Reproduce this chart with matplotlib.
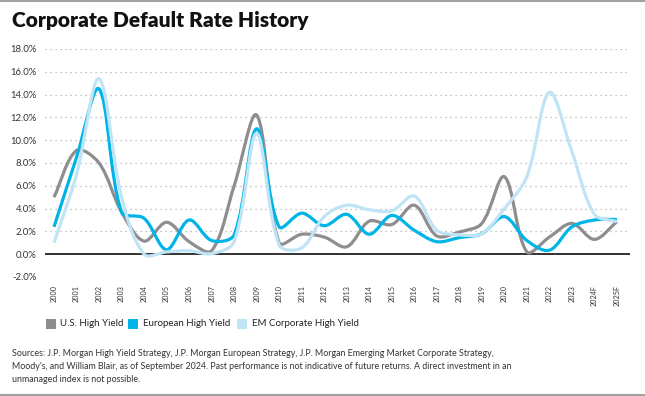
import matplotlib
matplotlib.use("Agg")
import matplotlib.pyplot as plt
from matplotlib.path import Path
from matplotlib.patches import PathPatch, Rectangle
from matplotlib.lines import Line2D
import numpy as np

plt.rcParams['font.family'] = ['Lato', 'DejaVu Sans']

years = ["2000", "2001", "2002", "2003", "2004", "2005", "2006", "2007", "2008", "2009",
         "2010", "2011", "2012", "2013", "2014", "2015", "2016", "2017", "2018", "2019",
         "2020", "2021", "2022", "2023", "2024F", "2025F"]
us_hy = [5.0, 9.1, 8.0, 3.7, 1.15, 2.8, 1.1, 0.3, 6.0, 12.2,
         1.0, 1.75, 1.5, 0.65, 2.9, 2.6, 4.3, 1.6, 1.95, 2.7,
         6.8, 0.2, 1.5, 2.7, 1.3, 2.85]
euro_hy = [2.4, 8.5, 14.5, 3.7, 3.15, 0.4, 3.0, 1.2, 1.7, 11.0,
           2.4, 3.6, 2.5, 3.5, 1.75, 3.4, 2.1, 1.1, 1.45, 1.8,
           3.3, 1.2, 0.35, 2.4, 3.0, 3.05]
em_hy = [1.0, 7.0, 15.4, 5.0, 0.0, 0.2, 0.3, 0.05, 1.1, 10.6,
         0.8, 0.55, 3.3, 4.3, 3.9, 3.8, 5.1, 2.1, 1.7, 1.8,
         4.0, 6.8, 14.2, 9.0, 3.5, 2.85]
series_names = ["U.S. High Yield", "European High Yield", "EM Corporate High Yield"]
colors = ["#8e8e90", "#00b4e8", "#bfe4f5"]
y_ticks = [-2, 0, 2, 4, 6, 8, 10, 12, 14, 16, 18]

W, H = 645, 396
PX_X = 22.5   # approx display pixels per category step
PX_Y = 11.4   # approx display pixels per percentage point


def smooth_path(xs, ys):
    """Chord-weighted cubic Bezier path (spreadsheet-style smoothed line)."""
    pts = np.column_stack([np.asarray(xs, float), np.asarray(ys, float)])
    scale = np.array([PX_X, PX_Y])
    n = len(pts)
    left = [None] * n
    right = [None] * n
    for i in range(n):
        p1 = pts[i]
        p0 = pts[i - 1] if i > 0 else pts[i]
        p2 = pts[i + 1] if i + 1 < n else pts[i]
        d01 = np.linalg.norm((p1 - p0) * scale)
        d12 = np.linalg.norm((p2 - p1) * scale)
        tot = d01 + d12
        t = p2 - p0
        if tot == 0:
            left[i] = right[i] = p1
            continue
        right[i] = p1 + t * (d12 / tot) / 3.0
        left[i] = p1 - t * (d01 / tot) / 3.0
    verts = [pts[0]]
    codes = [Path.MOVETO]
    for i in range(n - 1):
        verts += [right[i], left[i + 1], pts[i + 1]]
        codes += [Path.CURVE4] * 3
    return Path(verts, codes)


fig = plt.figure(figsize=(6.45, 3.96), dpi=100)
ax = fig.add_axes([45 / W, 1 - 277 / H, (630 - 45) / W, (277 - 49) / H])

x = np.arange(len(years))
order = [0, 2, 1]
for k in order:
    vals = [us_hy, euro_hy, em_hy][k]
    p = smooth_path(x, vals)
    ax.add_patch(PathPatch(p, facecolor='none', edgecolor=colors[k], lw=2.3,
                           capstyle='butt', joinstyle='round', zorder=2 + k * 0.1))
    ax.plot(x, vals, alpha=0)

ax.set_xlim(-0.4, 25.58)
ax.set_ylim(-2, 18)
ax.set_yticks(y_ticks)
ax.set_yticklabels([f"{v:.1f}%" for v in y_ticks])
ax.set_xticks(x)
ax.set_xticklabels(years, rotation=90, va='top', ha='center')
for v in y_ticks:
    if v != 0:
        ax.axhline(v, color='#b0b0b0', lw=0.9, ls=(0, (1, 3)), zorder=0)
ax.axhline(0, color='#222222', lw=1.3, zorder=1)
for s in ax.spines.values():
    s.set_visible(False)
ax.tick_params(axis='both', length=0)
ax.tick_params(axis='y', labelsize=6.8, labelcolor='#333333', pad=6)
ax.tick_params(axis='x', labelsize=5.2, labelcolor='#333333', pad=6)

# Title
fig.text(12 / W, 1 - 21 / H, "Corporate Default Rate History", fontsize=15,
         fontweight='heavy', color='#111111', va='center', ha='left')

# Legend
leg_y = 324
legend_pos = [(46, 60), (128, 143), (237, 252)]
for (sx, tx), name, c in zip(legend_pos, series_names, colors):
    fig.patches.append(Rectangle((sx / W, 1 - (leg_y + 5) / H), 10 / W, 10 / H,
                                 transform=fig.transFigure, facecolor=c,
                                 edgecolor='none'))
    fig.text(tx / W, 1 - leg_y / H, name, fontsize=7.0, color='#222222',
             va='center', ha='left')

# Footnote
foot = ("Sources: J.P. Morgan High Yield Strategy, J.P. Morgan European Strategy, "
        "J.P. Morgan Emerging Market Corporate Strategy,\n"
        "Moody's, and William Blair, as of September 2024. Past performance is not "
        "indicative of future returns. A direct investment in an\n"
        "unmanaged index is not possible.")
fig.text(12 / W, 1 - 348.5 / H, foot, fontsize=6.4, color='#333333', va='top',
         ha='left', linespacing=1.62)

# Border lines top and bottom
fig.add_artist(Line2D([0, 1], [1 - 0.8 / H, 1 - 0.8 / H], transform=fig.transFigure,
                      color='#a0a0a0', lw=1.5))
fig.add_artist(Line2D([0, 1], [1.2 / H, 1.2 / H], transform=fig.transFigure,
                      color='#a0a0a0', lw=1.5))

fig.savefig("out.png", dpi=100)
